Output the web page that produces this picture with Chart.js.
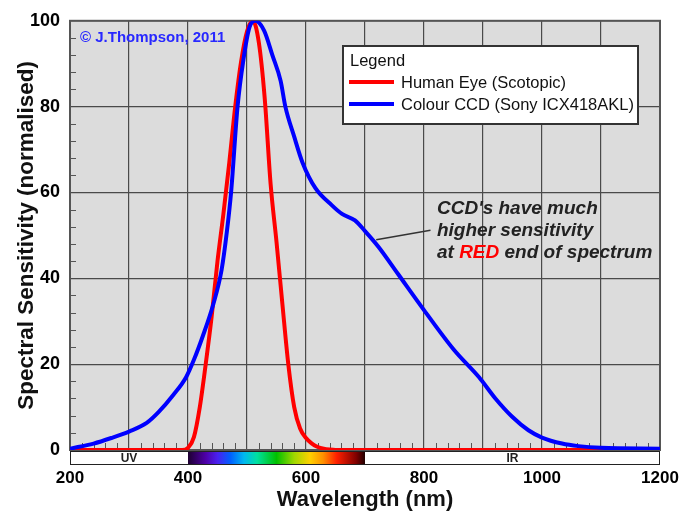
<!DOCTYPE html>
<html>
<head>
<meta charset="utf-8">
<script src="https://cdn.jsdelivr.net/npm/chart.js@4.4.0/dist/chart.umd.min.js"></script>
<style>
  html, body { margin: 0; padding: 0; background: #fff; }
  #wrap { width: 683px; height: 512px; }
</style>
</head>
<body>
<div id="wrap"><canvas id="myChart" width="683" height="512"></canvas></div>
<script>
// human eye, scotopic response
var eyeWavelengths = [200, 390, 400, 410, 420, 430, 440, 450, 460, 470, 480, 490, 500, 510,
                      520, 530, 540, 550, 560, 570, 580, 590, 600, 610, 620, 630, 640, 650, 1200];
var eyeValues = [0, 0, 0.5, 3, 10, 20, 31, 44, 55, 67, 80, 90.5, 97.5, 100,
                 95, 82, 62, 48.5, 34, 20, 10, 5, 2.8, 1.5, 0.7, 0.3, 0.1, 0, 0];

// colour CCD, Sony ICX418AKL
var ccdWavelengths = [200, 240, 270, 300, 330, 350, 375, 397, 410, 425, 443, 457, 466, 473,
                      484, 494, 504, 514, 529, 543, 557, 565, 580, 594, 616, 644, 661, 683,
                      700, 723, 756, 800, 851, 893, 921, 949, 977, 1000, 1034, 1062, 1100, 1200];
var ccdValues = [0.3, 1.5, 2.8, 4.3, 6.3, 8.8, 12.8, 17, 21, 26.5, 34, 42, 51, 60,
                 80, 91, 98.4, 100, 97.7, 92, 86, 80, 73, 67, 61, 57, 55, 53.5,
                 51, 47.3, 41, 32.6, 23.3, 17, 12, 7.8, 4.6, 2.9, 1.5, 0.9, 0.5, 0.3];

var xTicksMajor = 100;
var xTicksMinor = 20;
var yTicksMajor = 20;
var yTicksMinor = 4;

// spectrum strip under the axis
var spectrumStops = [
  [400, '#1e0030'], [430, '#4e00a8'], [450, '#4a20f0'], [472, '#0060ff'],
  [495, '#00b8f0'], [517, '#00e0a0'], [550, '#00c000'], [580, '#a0d800'],
  [607, '#ffd000'], [629, '#ff9000'], [652, '#ff2000'], [685, '#800000'], [700, '#200000']
];

function toPoints(xs, ys) {
  return xs.map(function (x, i) { return {x: x, y: ys[i]}; });
}

var plotBackground = {
  id: 'plotBackground',
  beforeDraw: function (chart) {
    var a = chart.chartArea, ctx = chart.ctx;
    ctx.save();
    ctx.fillStyle = '#dcdcdc';
    ctx.fillRect(a.left, a.top, a.right - a.left, a.bottom - a.top);
    ctx.restore();
  },
  beforeDatasetsDraw: function (chart) {
    var a = chart.chartArea, ctx = chart.ctx;
    var xs = chart.scales.x, ys = chart.scales.y;
    ctx.save();
    ctx.strokeStyle = '#555';
    ctx.lineWidth = 1;
    ctx.beginPath();
    for (var v = xs.min + xTicksMinor; v < xs.max; v += xTicksMinor) {
      if (v % xTicksMajor === 0) continue;
      var px = Math.round(xs.getPixelForValue(v)) + 0.5;
      ctx.moveTo(px, a.bottom);
      ctx.lineTo(px, a.bottom - 7);
    }
    for (var w = ys.min + yTicksMinor; w < ys.max; w += yTicksMinor) {
      if (w % yTicksMajor === 0) continue;
      var py = Math.round(ys.getPixelForValue(w)) + 0.5;
      ctx.moveTo(a.left, py);
      ctx.lineTo(a.left + 6, py);
    }
    ctx.stroke();
    ctx.strokeStyle = '#555';
    ctx.lineWidth = 2;
    ctx.strokeRect(a.left, a.top, a.right - a.left, a.bottom - a.top);
    ctx.restore();
  },
  afterDraw: function (chart) {
    var a = chart.chartArea, ctx = chart.ctx;
    var xs = chart.scales.x, ys = chart.scales.y;
    ctx.save();

    // spectrum strip
    var top = a.bottom + 1, h = 13;
    ctx.fillStyle = '#fff';
    ctx.fillRect(a.left, top, a.right - a.left, h);
    var x0 = xs.getPixelForValue(400), x1 = xs.getPixelForValue(700);
    var grad = ctx.createLinearGradient(x0, 0, x1, 0);
    spectrumStops.forEach(function (s) { grad.addColorStop((s[0] - 400) / 300, s[1]); });
    ctx.fillStyle = grad;
    ctx.fillRect(x0, top, x1 - x0, h);
    ctx.strokeStyle = '#222';
    ctx.lineWidth = 1;
    ctx.strokeRect(a.left + 0.5, top + 0.5, a.right - a.left - 1, h);
    ctx.fillStyle = '#222';
    ctx.font = 'bold 12px "Liberation Sans", Arial, sans-serif';
    ctx.textAlign = 'center';
    ctx.textBaseline = 'middle';
    ctx.fillText('UV', xs.getPixelForValue(300), top + h / 2 + 1);
    ctx.fillText('IR', xs.getPixelForValue(950), top + h / 2 + 1);

    // copyright
    ctx.fillStyle = '#2828ff';
    ctx.font = 'bold 15px "Liberation Sans", Arial, sans-serif';
    ctx.textAlign = 'left';
    ctx.fillText('\u00a9 J.Thompson, 2011', a.left + 10, a.top + 17);

    // legend box
    var lx = 343, ly = 46, lw = 295, lh = 78;
    ctx.fillStyle = '#fff';
    ctx.fillRect(lx, ly, lw, lh);
    ctx.strokeStyle = '#333';
    ctx.lineWidth = 2;
    ctx.strokeRect(lx, ly, lw, lh);
    ctx.fillStyle = '#111';
    ctx.font = '16.5px "Liberation Sans", Arial, sans-serif';
    ctx.fillText('Legend', lx + 7, ly + 15);
    chart.data.datasets.forEach(function (ds, i) {
      var y = ly + 36 + i * 22;
      ctx.strokeStyle = ds.borderColor;
      ctx.lineWidth = 4;
      ctx.beginPath();
      ctx.moveTo(lx + 6, y);
      ctx.lineTo(lx + 51, y);
      ctx.stroke();
      ctx.fillStyle = '#111';
      ctx.fillText(ds.label, lx + 58, y + 1);
    });

    // note with pointer to the CCD curve
    var px0 = xs.getPixelForValue(719), py0 = ys.getPixelForValue(49);
    var px1 = xs.getPixelForValue(811), py1 = ys.getPixelForValue(51.2);
    ctx.strokeStyle = '#333';
    ctx.lineWidth = 1.5;
    ctx.beginPath();
    ctx.moveTo(px0, py0);
    ctx.lineTo(px1, py1);
    ctx.stroke();
    var tx = xs.getPixelForValue(822), ty = ys.getPixelForValue(56.3);
    ctx.font = 'italic bold 19px "Liberation Sans", Arial, sans-serif';
    ctx.fillStyle = '#222';
    ctx.fillText("CCD's have much", tx, ty);
    ctx.fillText('higher sensitivity', tx, ty + 22);
    var t = tx;
    ctx.fillText('at ', t, ty + 44);
    t += ctx.measureText('at ').width;
    ctx.fillStyle = '#ff0000';
    ctx.fillText('RED', t, ty + 44);
    t += ctx.measureText('RED').width;
    ctx.fillStyle = '#222';
    ctx.fillText(' end of spectrum', t, ty + 44);
    ctx.restore();
  }
};

var ctx = document.getElementById('myChart').getContext('2d');
var myChart = new Chart(ctx, {
  type: 'line',
  data: {
    datasets: [{
      data: toPoints(eyeWavelengths, eyeValues),
      label: 'Human Eye (Scotopic)',
      borderColor: '#ff0000',
      borderWidth: 4,
      pointRadius: 0,
      cubicInterpolationMode: 'monotone',
      order: 2
    }, {
      data: toPoints(ccdWavelengths, ccdValues),
      label: 'Colour CCD (Sony ICX418AKL)',
      borderColor: '#0000ff',
      borderWidth: 4,
      pointRadius: 0,
      cubicInterpolationMode: 'monotone',
      order: 1
    }]
  },
  options: {
    responsive: false,
    animation: false,
    layout: { padding: { top: 20, right: 0, left: 0, bottom: 0 } },
    plugins: {
      legend: { display: false },
      tooltip: { enabled: false }
    },
    scales: {
      x: {
        type: 'linear',
        min: 200,
        max: 1200,
        afterFit: function (s) { s.height = 62; s.paddingRight = 23; s.paddingLeft = 0; },
        ticks: {
          stepSize: xTicksMajor,
          autoSkip: false,
          maxRotation: 0,
          padding: 18,
          color: '#000',
          font: { family: '"Liberation Sans", Arial, sans-serif', size: 17, weight: 'bold' },
          callback: function (v) { return v % 200 === 0 ? v : ''; }
        },
        grid: { color: '#4a4a4a', lineWidth: 1.2, drawTicks: false },
        border: { color: '#555', width: 2 },
        title: {
          display: true,
          text: 'Wavelength (nm)',
          color: '#111',
          padding: { top: 0, bottom: -1 },
          font: { family: '"Liberation Sans", Arial, sans-serif', size: 22, weight: 'bold' }
        }
      },
      y: {
        min: 0,
        max: 100,
        afterFit: function (s) { s.width = 70; },
        ticks: {
          stepSize: yTicksMajor,
          padding: 10,
          color: '#000',
          font: { family: '"Liberation Sans", Arial, sans-serif', size: 18, weight: 'bold' }
        },
        grid: { color: '#4a4a4a', lineWidth: 1.2, drawTicks: false },
        border: { color: '#555', width: 2 },
        title: {
          display: true,
          text: 'Spectral Sensitivity (normalised)',
          color: '#111',
          padding: { top: 13, bottom: 0 },
          font: { family: '"Liberation Sans", Arial, sans-serif', size: 22.5, weight: 'bold' }
        }
      }
    }
  },
  plugins: [plotBackground]
});
</script>
</body>
</html>
